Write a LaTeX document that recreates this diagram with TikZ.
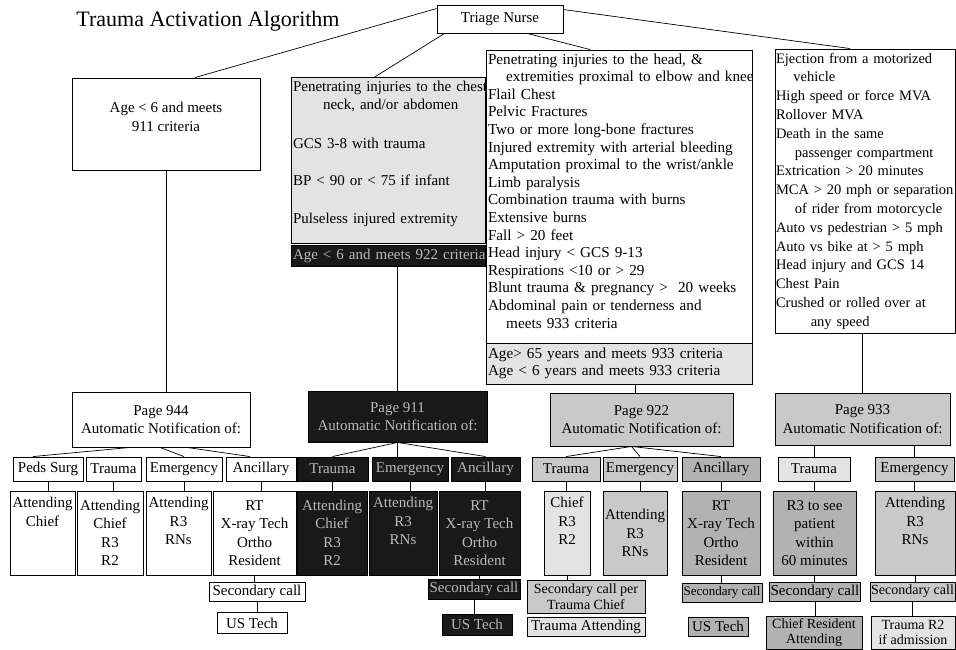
\documentclass[tikz,border=0pt]{standalone}
\usepackage{fontspec}
\setmainfont{Liberation Serif}
\newcommand\fsT{\fontsize{22}{26}\selectfont}
\newcommand\fsB{\fontsize{15}{18.5}\selectfont}
\newcommand\fsC{\fontsize{15.2}{17.6}\selectfont}
\newcommand\fsD{\fontsize{14.5}{18.8}\selectfont}
\newcommand\fsE{\fontsize{13}{15}\selectfont}
\newcommand\fsF{\fontsize{14}{15.5}\selectfont}
\newenvironment{lines}{\begin{tabular}{@{}l@{}}}{\end{tabular}}
\newenvironment{clines}{\begin{tabular}{@{}c@{}}}{\end{tabular}}
\begin{document}
\begin{tikzpicture}[x=1pt,y=-1pt,
  bx/.style={draw=black, line width=0.9pt, inner sep=1pt, align=center, font=\fsB, text=black},
  sz/.style 2 args={minimum width=#1pt, minimum height=#2pt},
  wb/.style={bx, fill=white},
  lg/.style={bx, fill=gray!22},
  mg/.style={bx, fill=gray!42},
  dg/.style={bx, fill=gray!60},
  kb/.style={bx, fill=black!90, text=gray!55},
  ln/.style={draw=black, line width=0.7pt}]
\path[use as bounding box, fill=white] (0,0) rectangle (956,650);

% title and root
\node[font=\fsT] (title) at (208,21) {Trauma Activation Algorithm};
\node[wb, sz={126}{28}] (triage) at (500,19) {Triage Nurse};

% criteria boxes
\node[wb, sz={188}{92}] (age) at (166,124) {\begin{clines}Age < 6 and meets\\911 criteria\\[11pt]\end{clines}};
\node[lg, sz={194}{165}, text width=190pt, align=left] (col2) at (388,160.5)
  {\begin{lines}Penetrating injuries to the chest\\\hspace*{2em}neck, and/or abdomen\\[20pt]GCS 3-8 with trauma\\[19pt]BP < 90 or < 75 if infant\\[19pt]Pulseless injured extremity\\[14pt]\end{lines}};
\node[kb, sz={194}{21}, text width=190pt, align=left] (strip) at (388,255.5) {\begin{lines}Age < 6 and meets 922 criteria\end{lines}};
\node[wb, sz={266}{293}, text width=262pt, align=left, font=\fsC] (col3) at (619,196.5)
  {\begin{lines}Penetrating injuries to the head, \&\\\hspace*{1.2em}extremities proximal to elbow and knee\\Flail Chest\\Pelvic Fractures\\Two or more long-bone fractures\\Injured extremity with arterial bleeding\\Amputation proximal to the wrist/ankle\\Limb paralysis\\Combination trauma with burns\\Extensive burns\\Fall > 20 feet\\Head injury < GCS 9-13\\Respirations <10 or > 29\\Blunt trauma \& pregnancy > \ 20 weeks\\Abdominal pain or tenderness and\\\hspace*{1.2em}meets 933 criteria\\[8pt]\end{lines}};
\node[lg, sz={266}{41}, text width=262pt, align=left, font=\fsC] (c3b) at (619,363.5)
  {\begin{lines}Age> 65 years and meets 933 criteria\\Age < 6 years and meets 933 criteria\end{lines}};
\node[wb, sz={180}{282}, text width=178pt, align=left, font=\fsD] (col4) at (865,191)
  {\begin{lines}Ejection from a motorized\\\hspace*{1.2em}vehicle\\High speed or force MVA\\Rollover MVA\\Death in the same\\\hspace*{1.3em}passenger compartment\\Extrication > 20 minutes\\MCA > 20 mph or separation\\\hspace*{1.3em}of rider from motorcycle\\Auto vs pedestrian > 5 mph\\Auto vs bike at > 5 mph\\Head injury and GCS 14\\Chest Pain\\Crushed or rolled over at\\\hspace*{2.4em}any speed\end{lines}};

% notification boxes
\node[wb, sz={178}{55}] (p944) at (161,419.5) {Page 944\\Automatic Notification of:};
\node[kb, sz={179}{51}] (p911) at (397.5,416.5) {Page 911\\Automatic Notification of:};
\node[mg, sz={183}{53}] (p922) at (641.5,419.5) {Page 922\\Automatic Notification of:};
\node[mg, sz={175}{52}] (p933) at (862.5,419) {Page 933\\Automatic Notification of:};

% row A
\node[wb, sz={70}{24}] (peds) at (48,469) {Peds Surg};
\node[wb, sz={55}{24}] (tr1) at (113.5,469) {Trauma};
\node[wb, sz={76}{24}] (em1) at (184,469) {Emergency};
\node[wb, sz={70}{24}] (an1) at (261,469) {Ancillary};
\node[kb, sz={71}{24}] (ktr) at (332.5,469) {Trauma};
\node[kb, sz={76}{24}] (kem) at (410,469) {Emergency};
\node[kb, sz={69}{24}] (kan) at (485.5,469) {Ancillary};
\node[mg, sz={68}{24}] (gtr) at (566,469) {Trauma};
\node[mg, sz={74}{24}] (gem) at (640,469) {Emergency};
\node[dg, sz={78}{24}] (gan) at (721,469) {Ancillary};
\node[lg, sz={72}{24}] (htr) at (814,469) {Trauma};
\node[mg, sz={79}{24}] (hem) at (914.5,469) {Emergency};

% row B
\node[wb, sz={65}{84}] (ac1) at (42.5,533) {Attending\\Chief\\\strut\\\strut};
\node[wb, sz={66}{84}] (ac2) at (110,533) {Attending\\Chief\\R3\\R2};
\node[wb, sz={65}{84}] (ac3) at (178.5,533) {Attending\\R3\\RNs\\\strut};
\node[wb, sz={83}{84}] (rt1) at (254.5,533) {RT\\X-ray Tech\\Ortho\\Resident};
\node[kb, sz={70}{84}] (kb1) at (332,533) {Attending\\Chief\\R3\\R2};
\node[kb, sz={68}{84}] (kb2) at (403,533) {Attending\\R3\\RNs\\\strut};
\node[kb, sz={81}{84}] (kb3) at (479.5,533) {RT\\X-ray Tech\\Ortho\\Resident};
\node[lg, sz={46}{84}] (gb1) at (567,533) {Chief\\R3\\R2\\\strut};
\node[mg, sz={64}{84}] (gb2) at (635,533) {Attending\\R3\\RNs};
\node[dg, sz={78}{84}] (gb3) at (721,533) {RT\\X-ray Tech\\Ortho\\Resident};
\node[dg, sz={83}{84}] (hb1) at (814.5,533) {R3 to see\\patient\\within\\60 minutes};
\node[mg, sz={80}{84}] (hb2) at (915,533) {Attending\\R3\\RNs\\\strut};

% row C
\node[wb, sz={96}{19}] (sec1) at (257,591.5) {Secondary call};
\node[kb, sz={92}{20}] (ksec) at (474,589) {Secondary call};
\node[mg, sz={118}{33}, font=\fsF] (gsec) at (586,596.5) {Secondary call per\\Trauma Chief};
\node[dg, sz={80}{19}, font=\fsE] (gsec2) at (722,592.5) {Secondary call};
\node[dg, sz={90}{19}] (hsec1) at (815,591.5) {Secondary call};
\node[mg, sz={85}{19}, font=\fsF] (hsec2) at (912.5,591.5) {Secondary call};

% row D
\node[wb, sz={70}{21}] (us1) at (252,623) {US Tech};
\node[kb, sz={70}{21}] (kus) at (477,624.5) {US Tech};
\node[lg, sz={118}{19}] (gta) at (586,626.5) {Trauma Attending};
\node[dg, sz={60}{19}] (gus) at (718,626.5) {US Tech};
\node[dg, sz={96}{33}, font=\fsF] (hcr) at (814,632.5) {Chief Resident\\Attending};
\node[lg, sz={84}{33}, font=\fsF] (htr2) at (913,632.5) {Trauma R2\\if admission};

% connectors from triage
\draw[ln] ([yshift=-4pt]triage.north west) -- ([xshift=29pt]age.north);
\draw[ln] ([xshift=8pt]triage.south west) -- ([xshift=-13pt]col2.north);
\draw[ln] ([xshift=-36pt]triage.south east) -- ([xshift=-29pt]col3.north);
\draw[ln] ([yshift=-5pt]triage.north east) -- ([xshift=-15pt]col4.north);

% criteria to notification
\draw[ln] (age.south) -- (age.south |- p944.north);
\draw[ln] (p911.north |- strip.south) -- (p911.north);
\coordinate (t922) at ([xshift=-6pt]p922.north);
\draw[ln] (t922 |- c3b.south) -- (t922);
\draw[ln] (p933.north |- col4.south) -- (p933.north);

% notification to row A
\draw[ln] ([xshift=-31pt]p944.south) -- ([xshift=-15pt]peds.north);
\draw[ln] ([xshift=-1pt]p944.south) -- (em1.north);
\draw[ln] ([xshift=26pt]p944.south) -- ([xshift=-11pt]an1.north);
\draw[ln] (p911.south) -- (ktr.north);
\draw[ln] (p911.south) -- (p911.south |- kem.north);
\draw[ln] (p911.south) -- (kan.north);
\coordinate (b922) at ([xshift=-10pt]p922.south);
\draw[ln] (b922) -- (gtr.north);
\draw[ln] (b922) -- (gem.north);
\draw[ln] (b922) -- (gan.north);
\draw[ln] (htr.north |- p933.south) -- (htr.north);
\draw[ln] (hem.north |- p933.south) -- (hem.north);

% row A to row B
\foreach \a/\b in {peds/ac1, tr1/ac2, em1/ac3, an1/rt1, ktr/kb1, kem/kb2, kan/kb3, gtr/gb1, gem/gb2, gan/gb3, htr/hb1, hem/hb2}
  \draw[ln] (\a.south) -- (\a.south |- \b.north);

% row B to row C
\foreach \a/\b in {rt1/sec1, kb3/ksec, gb1/gsec, gb3/gsec2, hb1/hsec1, hb2/hsec2}
  \draw[ln] (\a.south) -- (\a.south |- \b.north);

% row C to row D
\foreach \a/\b in {sec1/us1, ksec/kus, hsec1/hcr, hsec2/htr2}
  \draw[ln] (\a.south) -- (\a.south |- \b.north);
\end{tikzpicture}
\end{document}
